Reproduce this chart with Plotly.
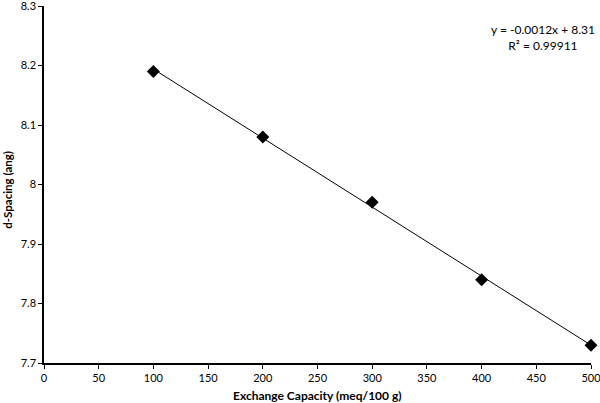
import numpy as np
import plotly.graph_objects as go

capacity = [100, 200, 300, 400, 500]
d_spacing = [8.19, 8.08, 7.97, 7.84, 7.73]
x_ticks = [0, 50, 100, 150, 200, 250, 300, 350, 400, 450, 500]
y_ticks = [7.7, 7.8, 7.9, 8.0, 8.1, 8.2, 8.3]
y_tick_text = ["7.7", "7.8", "7.9", "8", "8.1", "8.2", "8.3"]

slope, intercept = np.polyfit(capacity, d_spacing, 1)
fit_x = np.array([min(capacity), max(capacity)])
fit_y = slope * fit_x + intercept

font = "Lato, Open Sans, sans-serif"

fig = go.Figure()
fig.add_trace(go.Scatter(x=fit_x, y=fit_y, mode="lines",
                         line=dict(color="black", width=1), hoverinfo="skip",
                         cliponaxis=False))
fig.add_trace(go.Scatter(x=capacity, y=d_spacing, mode="markers",
                         marker=dict(symbol="diamond", size=10, color="black"),
                         cliponaxis=False))

fig.add_annotation(x=0.912, y=0.913, xref="paper", yref="paper",
                   xanchor="center", yanchor="middle",
                   text=f"y = {slope:.4f}x + {intercept:.2f}<br>R² = 0.99911",
                   showarrow=False, align="center",
                   font=dict(family=font, size=12, color="black"))
fig.add_annotation(x=0.5, y=-0.09, xref="paper", yref="paper",
                   xanchor="center", yanchor="middle",
                   text="<b>Exchange Capacity (meq/100 g)</b>", showarrow=False,
                   font=dict(family=font, size=12, color="black"))
fig.add_annotation(x=-0.066, y=0.485, xref="paper", yref="paper",
                   xanchor="center", yanchor="middle",
                   text="<b>d-Spacing (ang)</b>", showarrow=False, textangle=-90,
                   font=dict(family=font, size=11.5, color="black"))

fig.update_layout(
    width=600, height=403,
    margin=dict(l=44, r=9, t=6, b=40, autoexpand=False),
    paper_bgcolor="white", plot_bgcolor="white",
    showlegend=False,
    font=dict(family=font, size=11, color="black"),
    xaxis=dict(range=[0, 500], tickvals=x_ticks, showline=True, linecolor="black",
               linewidth=1.5, ticks="outside", ticklen=4, tickcolor="black",
               showgrid=False, zeroline=False, automargin=False,
               ticklabeloverflow="allow"),
    yaxis=dict(range=[7.7, 8.3], tickvals=y_ticks, ticktext=y_tick_text,
               showline=True, linecolor="black", linewidth=1.5, ticks="outside",
               ticklen=4, tickcolor="black", showgrid=False, zeroline=False,
               automargin=False, ticklabeloverflow="allow"),
)

fig.write_html("out.html", config={"displayModeBar": False},
               post_script="document.body.style.margin='0';document.body.style.overflow='hidden';")
